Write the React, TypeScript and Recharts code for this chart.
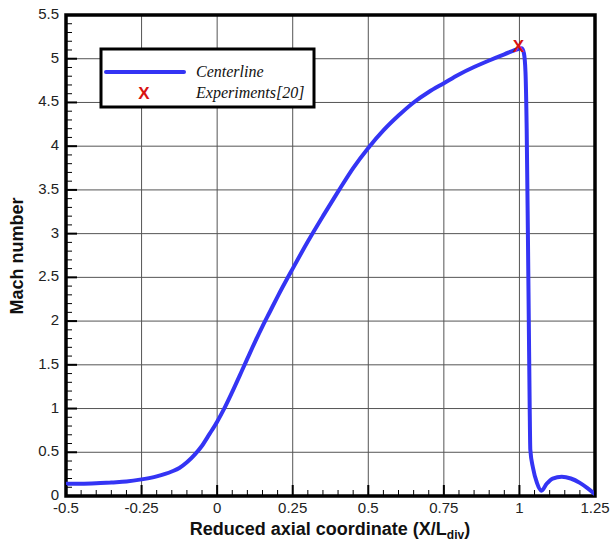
import { ComposedChart, Line, Scatter, XAxis, YAxis, CartesianGrid, ReferenceArea } from 'recharts'

// centerline Mach number vs reduced axial coordinate
const xPos = [
  -0.5, -0.45, -0.4, -0.35, -0.3, -0.25, -0.2, -0.15, -0.125, -0.1, -0.075, -0.05, -0.025,
  0, 0.025, 0.05, 0.075, 0.1, 0.125, 0.15, 0.175, 0.2, 0.25, 0.3, 0.35, 0.4, 0.45, 0.5,
  0.55, 0.6, 0.65, 0.7, 0.75, 0.8, 0.85, 0.9, 0.95, 1.0,
  1.008, 1.015, 1.02, 1.024, 1.028, 1.031, 1.034, 1.036, 1.045, 1.058, 1.073,
  1.09, 1.11, 1.14, 1.17, 1.2, 1.225, 1.25,
]
const mach = [
  0.14, 0.14, 0.145, 0.155, 0.165, 0.19, 0.225, 0.28, 0.32, 0.385, 0.47, 0.575, 0.71,
  0.85, 1.01, 1.19, 1.38, 1.57, 1.76, 1.94, 2.11, 2.28, 2.6, 2.91, 3.2, 3.48, 3.75, 3.98,
  4.18, 4.35, 4.5, 4.62, 4.72, 4.82, 4.905, 4.98, 5.05, 5.115,
  5.12, 5.06, 4.85, 4.2, 3.0, 2.0, 1.0, 0.53, 0.32, 0.15, 0.06,
  0.14, 0.2, 0.22, 0.2, 0.15, 0.09, 0.02,
]
const expX = [0.997]
const expY = [5.15]

const xMajor = [-0.5, -0.25, 0, 0.25, 0.5, 0.75, 1, 1.25]
const yMajor = [0, 0.5, 1, 1.5, 2, 2.5, 3, 3.5, 4, 4.5, 5, 5.5]
const xTicks = Array.from({ length: 36 }, (_, i) => (i - 10) / 20)
const yTicks = Array.from({ length: 56 }, (_, i) => i / 10)

const curve = xPos.map((x, i) => ({ x, y: mach[i] }))
const expData = expX.map((x, i) => ({ x, y: expY[i] }))

const BLUE = '#3434f4'
const RED = '#d81212'
const SANS = '"Liberation Sans", Arial, sans-serif'
const SERIF = '"Liberation Serif", "Times New Roman", serif'

const isMajor = (v: number, step: number) => Math.abs(v / step - Math.round(v / step)) < 1e-6

const XTick = ({ x, y, payload }: any) => {
  const v = payload.value
  const major = isMajor(v, 0.25)
  return (
    <g>
      <line x1={x} x2={x} y1={y} y2={y - (major ? 11 : 6)} stroke="#000" strokeWidth={major ? 2 : 1} />
      {major && (
        <text x={x} y={y + 17} textAnchor="middle" fontSize={15} fill="#222" fontFamily={SANS}>{String(v)}</text>
      )}
    </g>
  )
}

const YTick = ({ x, y, payload }: any) => {
  const v = payload.value
  const major = isMajor(v, 0.5)
  return (
    <g>
      <line x1={x} x2={x + (major ? 11 : 6)} y1={y} y2={y} stroke="#000" strokeWidth={major ? 2 : 1} />
      {major && (
        <text x={x - 7} y={y + 4} textAnchor="end" fontSize={15} fill="#222" fontFamily={SANS}>{String(v)}</text>
      )}
    </g>
  )
}

const Cross = ({ cx, cy }: any) => (
  <text x={cx} y={cy + 6} textAnchor="middle" fill={RED} fontSize={17} fontWeight="bold" fontFamily={SANS}>X</text>
)

export default function App() {
  return (
    <div style={{ position: 'absolute', left: 0, top: 0, width: 610, height: 543, background: '#fff' }}>
      <ComposedChart width={610} height={543} data={curve} margin={{ top: 15, right: 15, bottom: 17, left: 16 }}>
        <CartesianGrid stroke="#555" strokeWidth={1} verticalValues={xMajor} horizontalValues={yMajor} />
        <XAxis dataKey="x" type="number" domain={[-0.5, 1.25]} ticks={xTicks} interval={0} allowDataOverflow
          height={30} tickSize={0} tickMargin={0} tickLine={false} axisLine={false} tick={<XTick />} />
        <YAxis type="number" domain={[0, 5.5]} ticks={yTicks} interval={0} allowDataOverflow
          width={50} tickSize={0} tickMargin={0} tickLine={false} axisLine={false} tick={<YTick />} />
        <Line type="monotone" dataKey="y" stroke={BLUE} strokeWidth={4} dot={false} isAnimationActive={false} />
        <Scatter data={expData} dataKey="y" shape={<Cross />} isAnimationActive={false} />
        <ReferenceArea x1={-0.5} x2={1.25} y1={0} y2={5.5} fill="none" fillOpacity={0} stroke="#000" strokeWidth={3.5} />
      </ComposedChart>

      <svg width={610} height={543} style={{ position: 'absolute', left: 0, top: 0, pointerEvents: 'none' }}>
        {/* legend */}
        <rect x={101} y={49} width={213} height={58} fill="#fff" stroke="#000" strokeWidth={3} />
        <line x1={106} x2={184} y1={72} y2={72} stroke={BLUE} strokeWidth={4} strokeLinecap="round" />
        <text x={196} y={77} fontSize={16} fontStyle="italic" fontFamily={SERIF} fill="#111">Centerline</text>
        <text x={144} y={99} textAnchor="middle" fill={RED} fontSize={17} fontWeight="bold" fontFamily={SANS}>X</text>
        <text x={196} y={98} fontSize={16} fontStyle="italic" fontFamily={SERIF} fill="#111">Experiments[20]</text>

        {/* axis titles */}
        <text x={330} y={535} textAnchor="middle" fontSize={18} fontWeight="bold" fontFamily={SANS} fill="#111">
          Reduced axial coordinate (X/L<tspan fontSize={12} dy={4}>div</tspan><tspan dy={-4}>)</tspan>
        </text>
        <text transform="translate(23,256) rotate(-90)" textAnchor="middle" fontSize={18} fontWeight="bold"
          fontFamily={SANS} fill="#111">Mach number</text>
      </svg>
    </div>
  )
}
